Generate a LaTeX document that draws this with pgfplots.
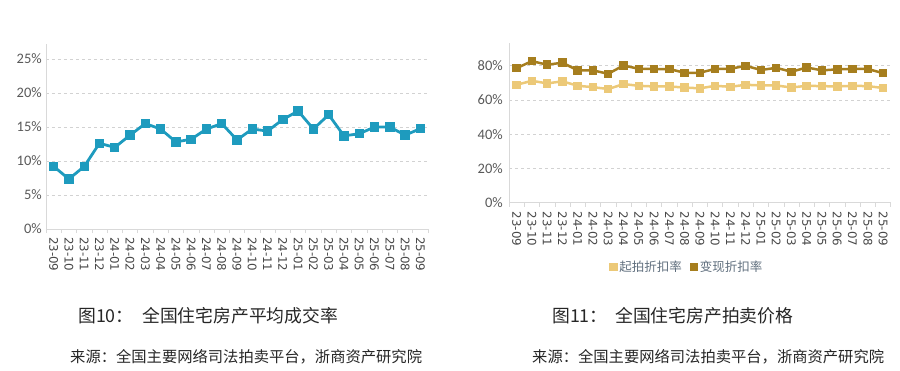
\documentclass[border=0pt]{standalone}
\usepackage{fontspec}
\usepackage{pgfplots}
\pgfplotsset{compat=1.18}
\setmainfont{Liberation Sans}
\newfontfamily\tickfont{Carlito}
\newfontfamily\xtickfont{DejaVu Sans}
\newfontfamily\cjk{Noto Sans CJK SC}
\newfontfamily\cjklegend{Noto Sans CJK SC}
\definecolor{teal1}{RGB}{30,155,190}
\definecolor{golddark}{RGB}{166,126,30}
\definecolor{goldlight}{RGB}{236,201,120}
\definecolor{tickgray}{RGB}{89,89,89}
\definecolor{axgray}{RGB}{217,217,217}
\definecolor{leggray}{RGB}{95,110,125}
\begin{document}
\begin{tikzpicture}
\path[use as bounding box] (0pt,0pt) rectangle (900pt,370pt);
\coordinate (LA) at (46pt,141pt);
\coordinate (RA) at (509pt,167.3pt);
\pgfplotsset{
  common/.style={
    scale only axis,
    axis x line*=bottom, axis y line*=left,
    axis line style={-, draw=axgray, line width=0.8pt},
    xmin=-0.5, xmax=24.5,
    xtick={0,...,24},
    xticklabels={23-09,23-10,23-11,23-12,24-01,24-02,24-03,24-04,24-05,24-06,24-07,24-08,24-09,24-10,24-11,24-12,25-01,25-02,25-03,25-04,25-05,25-06,25-07,25-08,25-09},
    xticklabel style={rotate=-90, anchor=west, font=\xtickfont\fontsize{11.8}{11.8}\selectfont, text=black!72, inner sep=0pt},
    minor xtick={-0.5,0.5,...,24.5},
    major tick length=0pt,
    minor tick length=4pt,
    tick align=outside,
    minor tick style={draw=axgray, line width=0.6pt},
    ymajorgrids,
    major grid style={draw=gray!35, dash pattern=on 3pt off 3pt, line width=0.6pt},
    yticklabel style={font=\tickfont\fontsize{14.5}{14.5}\selectfont, text=tickgray, inner sep=0pt},
    clip=false,
  }
}
% Left chart
\begin{axis}[common,
  at={(LA)}, anchor=south west,
  width=382pt, height=185pt,
  ymin=0, ymax=27.2,
  ytick={0,5,10,15,20,25},
  yticklabels={0\%,5\%,10\%,15\%,20\%,25\%},
  yticklabel shift=4pt,
  xticklabel shift=8pt,
]
\addplot[teal1, line width=2.8pt, mark=square*, mark size=3.3pt, mark options={solid}] coordinates {
(0,9.2)(1,7.35)(2,9.2)(3,12.6)(4,12.0)(5,13.8)(6,15.5)(7,14.7)(8,12.8)(9,13.2)(10,14.7)(11,15.5)(12,13.1)(13,14.7)(14,14.4)(15,16.1)(16,17.35)(17,14.7)(18,16.8)(19,13.7)(20,14.0)(21,15.0)(22,15.0)(23,13.8)(24,14.75)
};
\end{axis}
% Right chart
\begin{axis}[common,
  at={(RA)}, anchor=south west,
  width=381.7pt, height=159.7pt,
  ymin=0, ymax=93.3,
  ytick={0,20,40,60,80},
  yticklabels={0\%,20\%,40\%,60\%,80\%},
  yticklabel shift=6pt,
  xticklabel shift=9pt,
  legend columns=2,
  legend style={at={(0.466,-0.403)}, anchor=center, draw=none, fill=none,
    font=\cjklegend\fontsize{12.5}{12.5}\selectfont, text=leggray,
    /tikz/every even column/.append style={column sep=6pt}, inner sep=0pt},
  legend image code/.code={\draw[#1, line width=2pt] (-0.5pt,0pt) -- (5.5pt,0pt); \draw[#1, mark=square*, mark size=3pt, mark options={solid}] plot coordinates {(2.5pt,0pt)};},
]
\addplot[goldlight, line width=2.5pt, mark=square*, mark size=3pt] coordinates {
(0,68.9)(1,71.2)(2,69.7)(3,70.9)(4,68.3)(5,67.5)(6,66.4)(7,69.3)(8,68.3)(9,67.9)(10,67.9)(11,67.3)(12,66.8)(13,68.3)(14,67.7)(15,68.9)(16,68.5)(17,68.5)(18,67.3)(19,68.3)(20,68.1)(21,67.9)(22,68.3)(23,68.1)(24,67.0)
};
\addlegendentry{起拍折扣率}
\addplot[golddark, line width=2.5pt, mark=square*, mark size=3pt] coordinates {
(0,78.6)(1,82.7)(2,80.6)(3,81.8)(4,77.3)(5,77.3)(6,75.3)(7,80.2)(8,78.2)(9,78.1)(10,78.1)(11,75.9)(12,75.9)(13,78.2)(14,78.2)(15,80.0)(16,77.5)(17,78.8)(18,76.5)(19,79.0)(20,77.3)(21,77.9)(22,78.2)(23,78.1)(24,75.7)
};
\addlegendentry{变现折扣率}
\end{axis}
% Captions
\node[anchor=west, inner sep=0pt, text=black!85] at (78pt,54pt) {\cjk\fontsize{17.8}{17.8}\selectfont 图10：};
\node[anchor=west, inner sep=0pt, text=black!85] at (142pt,54pt) {\cjk\fontsize{17.8}{17.8}\selectfont 全国住宅房产平均成交率};
\node[anchor=west, inner sep=0pt, text=black!85] at (552pt,54pt) {\cjk\fontsize{17.8}{17.8}\selectfont 图11：};
\node[anchor=west, inner sep=0pt, text=black!85] at (615pt,54pt) {\cjk\fontsize{17.8}{17.8}\selectfont 全国住宅房产拍卖价格};
\node[anchor=west, inner sep=0pt, text=black!85] at (70pt,13pt) {\cjk\fontsize{15.3}{15.3}\selectfont 来源：全国主要网络司法拍卖平台，浙商资产研究院};
\node[anchor=west, inner sep=0pt, text=black!85] at (532pt,13pt) {\cjk\fontsize{15.3}{15.3}\selectfont 来源：全国主要网络司法拍卖平台，浙商资产研究院};
\end{tikzpicture}
\end{document}
